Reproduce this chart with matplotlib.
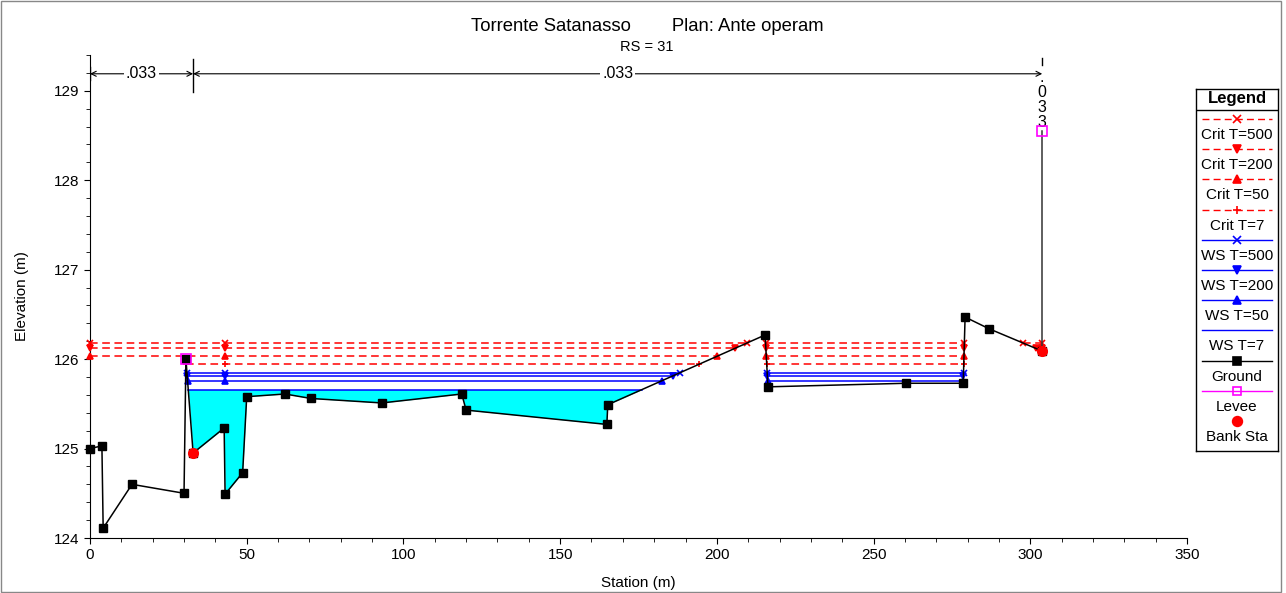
import numpy as np
import matplotlib
matplotlib.use('Agg')
import matplotlib.pyplot as plt
from matplotlib.lines import Line2D
from matplotlib.patches import Rectangle

plt.rcParams['font.family'] = ['Liberation Sans', 'DejaVu Sans']

# cross section geometry
ground_sta = [0, 3.8, 4.2, 13.4, 30.0, 30.6, 32.9, 42.8, 43.1, 48.7, 50.0, 62.2, 70.5, 93.1,
              118.6, 120.0, 164.9, 165.2, 215.4, 216.3, 260.4, 278.6, 279.2, 286.8, 303.8]
ground_elev = [125.0, 125.03, 124.11, 124.6, 124.5, 126.0, 124.95, 125.23, 124.49, 124.73, 125.58,
               125.61, 125.56, 125.51, 125.61, 125.43, 125.27, 125.49, 126.27, 125.69, 125.73,
               125.73, 126.47, 126.34, 126.09]
levee_sta = [30.6, 303.8]
levee_elev = [126.0, 128.55]
bank_sta = [32.9, 303.8]
n_sta = [0, 32.9, 303.8]
n_val = ['.033', '.033', '.033']

# water surfaces
crit_names = ['Crit T=500', 'Crit T=200', 'Crit T=50', 'Crit T=7']
crit_elev = [126.18, 126.12, 126.03, 125.94]
crit_marks = ['x', 'v', '^', '+']
ws_names = ['WS T=500', 'WS T=200', 'WS T=50', 'WS T=7']
ws_elev = [125.85, 125.815, 125.76, 125.66]
ws_marks = ['x', 'v', '^', None]
extra_marker_sta = [43.1]


def wet_intervals(ws):
	out = []
	start = ground_sta[0] if ground_elev[0] < ws else None
	for i in range(len(ground_sta) - 1):
		x0, y0, x1, y1 = ground_sta[i], ground_elev[i], ground_sta[i + 1], ground_elev[i + 1]
		if (y0 < ws) != (y1 < ws):
			xc = x0 + (ws - y0) * (x1 - x0) / (y1 - y0)
			if y0 < ws:
				out.append((start, xc))
				start = None
			else:
				start = xc
	if start is not None:
		out.append((start, ground_sta[-1]))
	# left levee blocks the overbank when not overtopped
	return [(a, b) for a, b in out if not (b <= levee_sta[0] + 0.01 and ws < levee_elev[0])]


def draw_ws(ax, ws, color, ls, marker, fill=False):
	for a, b in wet_intervals(ws):
		ax.plot([a, b], [ws, ws], color=color, ls=ls, lw=1.1, dashes=(5, 3) if ls == '--' else (None, None), zorder=3)
		if fill:
			xs = [a] + [s for s in ground_sta if a < s < b] + [b]
			ys = np.interp(xs, ground_sta, ground_elev)
			ax.fill_between(xs, ys, ws, color='#00ffff', lw=0, zorder=1)
		if marker:
			mx = [a, b] + [s for s in extra_marker_sta if a < s < b]
			ax.plot(mx, [ws] * len(mx), ls='none', marker=marker, color=color, ms=5, mew=1.2, zorder=4,
			        clip_on=False)


fig = plt.figure(figsize=(12.86, 5.93), dpi=100)
ax = fig.add_axes([90 / 1286, 1 - 538 / 593, (1187 - 90) / 1286, (538 - 55) / 593])
ax.set_xlim(0, 350)
ax.set_ylim(124, 129.38)

for z, m in zip(crit_elev, crit_marks):
	draw_ws(ax, z, 'red', '--', m)
for i, (z, m) in enumerate(zip(ws_elev, ws_marks)):
	draw_ws(ax, z, 'blue', '-', m, fill=(i == len(ws_elev) - 1))

ax.plot(ground_sta, ground_elev, color='black', lw=1.1, marker='s', ms=5.5, zorder=5, clip_on=False)
# levee line where it stands above ground
for s, z in zip(levee_sta, levee_elev):
	g = np.interp(s, ground_sta, ground_elev)
	if z > g:
		ax.plot([s, s], [g, z], color='#333333', lw=1.1, zorder=5)
ax.plot(levee_sta, levee_elev, ls='none', marker='s', ms=7, mfc='none', mec='magenta', mew=1.2, zorder=6)
ax.plot(bank_sta, np.interp(bank_sta, ground_sta, ground_elev), ls='none', marker='o', ms=7,
        color='red', zorder=7)

# manning's n
yn = 129.19
for i in range(len(n_sta) - 1):
	a, b = n_sta[i], n_sta[i + 1]
	ax.annotate('', xy=(a, yn), xytext=(b, yn),
	            arrowprops=dict(arrowstyle='<->', color='black', lw=0.8, shrinkA=0, shrinkB=0, mutation_scale=9))
	ax.text((a + b) / 2, yn, n_val[i], ha='center', va='center', fontsize=11.5,
	        bbox=dict(fc='white', ec='none', pad=1.5), zorder=8)
ax.plot([n_sta[0]] * 2, [129.12, 129.27], color='black', lw=1)
ax.plot([n_sta[1]] * 2, [128.99, 129.35], color='black', lw=1)
ax.plot([n_sta[2]] * 2, [129.29, 129.37], color='black', lw=1)
ax.text(n_sta[2], 129.23, '.\n' + '\n'.join(n_val[2].strip('.')), ha='center', va='top',
        fontsize=11.5, linespacing=1.0)

ax.spines['top'].set_visible(False)
ax.spines['right'].set_visible(False)
ax.set_xticks(np.arange(0, 351, 50))
ax.set_xticks(np.arange(0, 351, 10), minor=True)
ax.set_yticks(np.arange(124, 130, 1))
ax.set_yticks(np.arange(124, 129.4, 0.2), minor=True)
ax.tick_params(which='major', length=4, labelsize=11)
ax.tick_params(which='minor', length=3)
ax.set_xlabel('Station (m)', fontsize=11)
ax.set_ylabel('Elevation (m)', fontsize=11)
ax.xaxis.set_label_coords(0.5, -0.078)
ax.yaxis.set_label_coords(-0.056, 0.5)

fig.text(0.503, 0.955, 'Torrente Satanasso        Plan: Ante operam', ha='center', va='center', fontsize=13.3)
fig.text(0.503, 0.921, 'RS = 31', ha='center', va='center', fontsize=10.5)

# legend box
lg = fig.add_axes([1196 / 1286, 1 - 451 / 593, 82 / 1286, 362 / 593])
lg.set_xlim(0, 82)
lg.set_ylim(362, 0)
lg.set_xticks([])
lg.set_yticks([])
for sp in lg.spines.values():
	sp.set_linewidth(1)
lg.axhline(21, color='black', lw=1)
lg.text(41, 10, 'Legend', ha='center', va='center', fontsize=12, fontweight='bold')
entries = [(n, 'red', '--', m) for n, m in zip(crit_names, crit_marks)]
entries += [(n, 'blue', '-', m) for n, m in zip(ws_names, ws_marks)]
entries += [('Ground', 'black', '-', 's'), ('Levee', 'magenta', '-', 's'), ('Bank Sta', 'red', None, 'o')]
for k, (name, c, ls, m) in enumerate(entries):
	y = 30 + 30.2 * k
	if ls:
		lg.add_line(Line2D([6, 76], [y, y], color=c, ls=ls, lw=1, dashes=(5, 3) if ls == '--' else (None, None)))
	if m:
		face = 'none' if name == 'Levee' else c
		lg.add_line(Line2D([41], [y], marker=m, color=c, mfc=face, ms=6 if name != 'Bank Sta' else 7, mew=1.2))
	lg.text(41, y + 16, name, ha='center', va='center', fontsize=11)

fig.add_artist(Rectangle((0.0005, 0.001), 0.996, 0.997, transform=fig.transFigure, fill=False,
                         ec='#888888', lw=1))

fig.savefig('out.png', dpi=100)
